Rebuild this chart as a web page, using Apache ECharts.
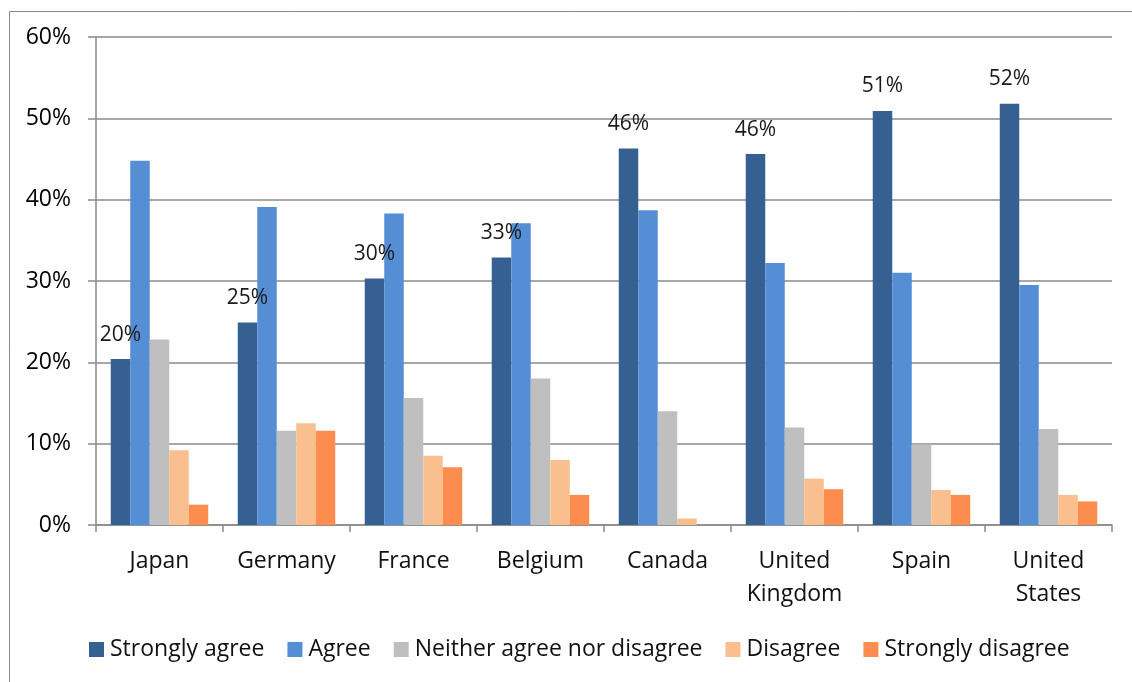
<!DOCTYPE html>
<html>
<head>
<meta charset="utf-8">
<script src="https://cdn.jsdelivr.net/npm/echarts@6/dist/echarts.min.js"></script>
<style>
  html, body { margin: 0; padding: 0; background: #fff; }
  #chart { width: 1132px; height: 682px; }
</style>
</head>
<body>
<div id="chart"></div>
<script>
// Survey responses by country (share of respondents, %)
const countries = ['Japan', 'Germany', 'France', 'Belgium', 'Canada', 'United\nKingdom', 'Spain', 'United\nStates'];
const stronglyAgree = [20.4, 24.9, 30.3, 32.9, 46.3, 45.6, 50.9, 51.8];
const agree = [44.8, 39.1, 38.3, 37.1, 38.7, 32.2, 31.0, 29.5];
const neither = [22.8, 11.6, 15.6, 18.0, 14.0, 12.0, 9.9, 11.8];
const disagree = [9.2, 12.5, 8.5, 8.0, 0.8, 5.7, 4.3, 3.7];
const stronglyDisagree = [2.5, 11.6, 7.1, 3.7, 0, 4.4, 3.7, 2.9];
const yTicks = { min: 0, max: 60, interval: 10 };

const FONT = 'Open Sans';
const AXIS_GRAY = '#8a8a8a';

const seriesDefs = [
  { name: 'Strongly agree', data: stronglyAgree, color: '#376092', labelled: true },
  { name: 'Agree', data: agree, color: '#558ed5' },
  { name: 'Neither agree nor disagree', data: neither, color: '#bfbfbf' },
  { name: 'Disagree', data: disagree, color: '#f9bf8f' },
  { name: 'Strongly disagree', data: stronglyDisagree, color: '#fd8d4e' }
];

const chart = echarts.init(document.getElementById('chart'), null, { renderer: 'canvas' });

chart.setOption({
  animation: false,
  backgroundColor: '#ffffff',
  textStyle: { fontFamily: FONT },
  graphic: [{
    type: 'rect',
    left: 7, top: 9,
    shape: { width: 1200, height: 800 },
    style: { fill: 'none', stroke: AXIS_GRAY, lineWidth: 1 },
    silent: true
  }],
  grid: { left: 96, right: 20, top: 37, bottom: 157, containLabel: false },
  legend: {
    left: 89, top: 638,
    padding: 0,
    itemWidth: 15, itemHeight: 15, itemGap: 23,
    icon: 'rect',
    textStyle: { fontFamily: FONT, fontSize: 23, color: '#111', padding: [0, 0, 0, 1] },
    data: seriesDefs.map(s => s.name)
  },
  xAxis: {
    type: 'category',
    data: countries,
    axisLine: { lineStyle: { color: AXIS_GRAY, width: 1.5 } },
    axisTick: { show: true, length: 7, lineStyle: { color: AXIS_GRAY, width: 1.5 } },
    axisLabel: {
      fontFamily: FONT, fontSize: 23, color: '#111',
      margin: 20, lineHeight: 33, interval: 0
    }
  },
  yAxis: {
    type: 'value',
    min: yTicks.min, max: yTicks.max, interval: yTicks.interval,
    axisLine: { show: true, lineStyle: { color: AXIS_GRAY, width: 1.5 } },
    axisTick: { show: true, length: 8, lineStyle: { color: AXIS_GRAY, width: 1.5 } },
    axisLabel: {
      fontFamily: FONT, fontSize: 23, color: '#000',
      margin: 25, formatter: '{value}%'
    },
    splitLine: { lineStyle: { color: AXIS_GRAY, width: 1.5 } }
  },
  series: seriesDefs.map(s => ({
    name: s.name,
    type: 'bar',
    data: s.data,
    barWidth: 19.5,
    barGap: '0%',
    itemStyle: { color: s.color },
    label: s.labelled ? {
      show: true,
      position: 'top',
      distance: 14,
      fontFamily: FONT,
      fontSize: 21,
      color: '#1a1a1a',
      formatter: p => Math.round(p.value) + '%'
    } : { show: false }
  }))
});
</script>
</body>
</html>
